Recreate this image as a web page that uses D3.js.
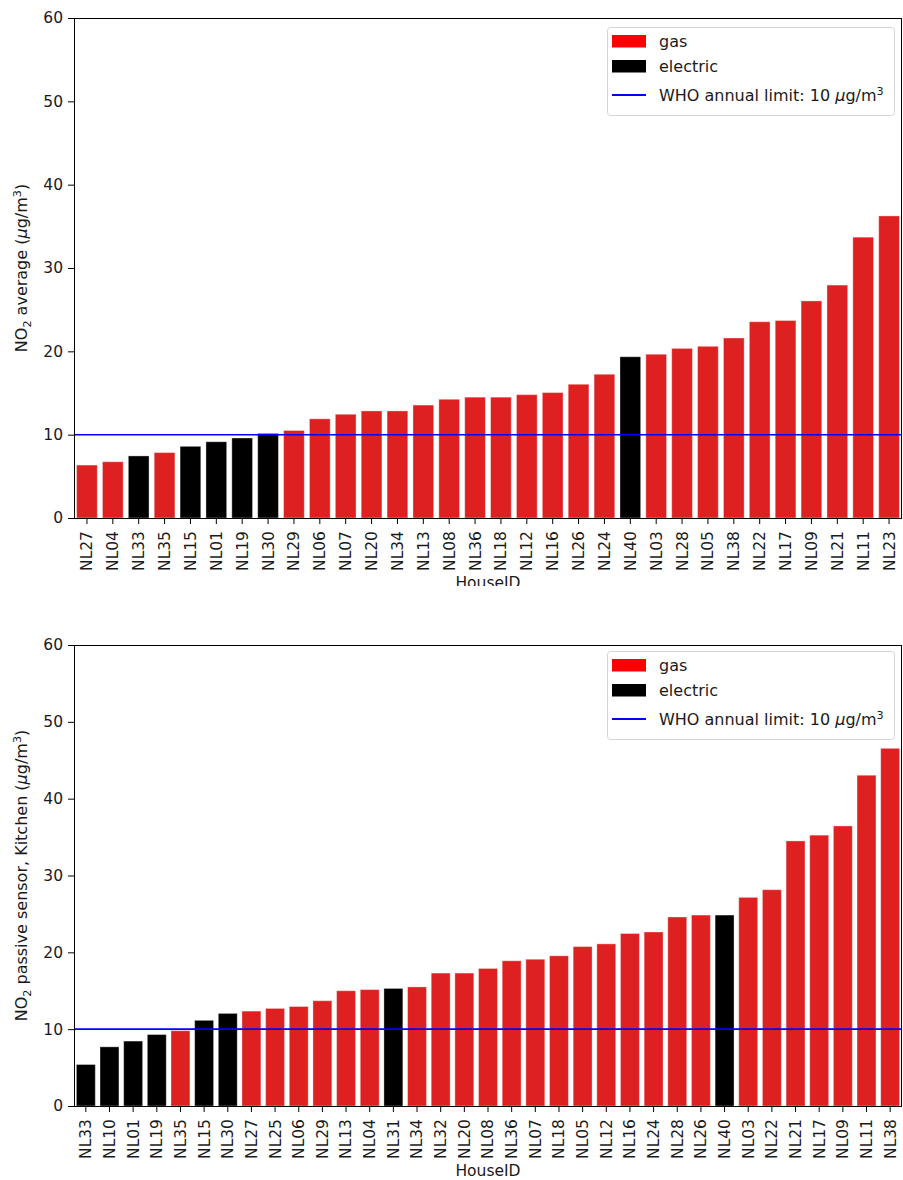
<!DOCTYPE html>
<html>
<head>
<meta charset="utf-8">
<script src="https://cdn.jsdelivr.net/npm/d3@7"></script>
<style>
  html, body { margin: 0; padding: 0; background: #fff; }
  svg { display: block; }
  text { font-family: "DejaVu Sans", sans-serif; fill: #1a1a1a; }
</style>
</head>
<body>
<svg id="chart" width="903" height="1180"></svg>
<script>
// NO2 average per house (sorted)
const avgHouses = ["NL27","NL04","NL33","NL35","NL15","NL01","NL19","NL30","NL29","NL06","NL07","NL20","NL34","NL13","NL08","NL36","NL18","NL12","NL16","NL26","NL24","NL40","NL03","NL28","NL05","NL38","NL22","NL17","NL09","NL21","NL11","NL23"];
const avgValues = [6.35,6.75,7.45,7.85,8.6,9.15,9.6,10.15,10.5,11.9,12.45,12.85,12.85,13.55,14.25,14.5,14.5,14.8,15.05,16.05,17.25,19.35,19.65,20.35,20.6,21.6,23.55,23.7,26.05,27.95,33.7,36.25];
const avgHeating = ["gas","gas","electric","gas","electric","electric","electric","electric","gas","gas","gas","gas","gas","gas","gas","gas","gas","gas","gas","gas","gas","electric","gas","gas","gas","gas","gas","gas","gas","gas","gas","gas"];

// NO2 passive sensor in the kitchen per house (sorted)
const kitchenHouses = ["NL33","NL10","NL01","NL19","NL35","NL15","NL30","NL27","NL25","NL06","NL29","NL13","NL04","NL31","NL34","NL32","NL20","NL08","NL36","NL07","NL18","NL05","NL12","NL16","NL24","NL28","NL26","NL40","NL03","NL22","NL21","NL17","NL09","NL11","NL38"];
const kitchenValues = [5.4,7.7,8.45,9.3,9.8,11.15,12.05,12.35,12.7,12.95,13.7,15.0,15.15,15.3,15.5,17.3,17.3,17.9,18.9,19.1,19.55,20.75,21.1,22.45,22.65,24.6,24.85,24.85,27.15,28.15,34.5,35.25,36.45,43.05,46.55];
const kitchenHeating = ["electric","electric","electric","electric","gas","electric","electric","gas","gas","gas","gas","gas","gas","electric","gas","gas","gas","gas","gas","gas","gas","gas","gas","gas","gas","gas","gas","electric","gas","gas","gas","gas","gas","gas","gas"];

const yTicks = [0, 10, 20, 30, 40, 50, 60];
const whoLimit = 10;
const legendLabels = ["gas", "electric"];

const barColor = { gas: "#df2020", electric: "#000000" };
const legendColor = { gas: "#ff0000", electric: "#000000" };

const svg = d3.select("#chart");
const TICK_FONT = 15.5;
const LABEL_FONT = 16;

// Append "NO₂ … (μg/m³)" label pieces with sub/superscripts and italic μ
function unitText(sel, prefix) {
  sel.append("tspan").text("NO");
  sel.append("tspan").attr("dy", 4).attr("font-size", LABEL_FONT * 0.7).text("2");
  sel.append("tspan").attr("dy", -4).text(" " + prefix + " (");
  sel.append("tspan").attr("font-style", "italic").text("\u03bc");
  sel.append("tspan").text("g/m");
  sel.append("tspan").attr("dy", -6).attr("font-size", LABEL_FONT * 0.7).text("3");
  sel.append("tspan").attr("dy", 6).text(")");
}

function drawPanel(opts) {
  const { houses, values, heating, top, bottom, ylabel, clipBottom, whoWidth, legendTop } = opts;
  const left = 74, right = 902;
  const g = svg.append("g");

  if (clipBottom) {
    const id = "clip" + top;
    svg.append("clipPath").attr("id", id)
      .append("rect").attr("x", 0).attr("y", 0).attr("width", 903).attr("height", clipBottom);
    g.attr("clip-path", `url(#${id})`);
  }

  const x = d3.scaleBand().domain(houses).range([left, right]).paddingInner(0.2).paddingOuter(0.1);
  const y = d3.scaleLinear().domain([0, 60]).range([bottom, top]);

  // bars
  g.append("g").selectAll("rect")
    .data(houses.map((h, i) => ({ h, v: values[i], t: heating[i] })))
    .join("rect")
    .attr("x", d => x(d.h))
    .attr("width", x.bandwidth())
    .attr("y", d => y(d.v))
    .attr("height", d => y(0) - y(d.v))
    .attr("fill", d => barColor[d.t])
    .attr("stroke", "rgba(255,255,255,0.35)")
    .attr("stroke-width", 1);

  // WHO limit line
  g.append("line")
    .attr("x1", left).attr("x2", right)
    .attr("y1", y(whoLimit)).attr("y2", y(whoLimit))
    .attr("stroke", "#0000ff").attr("stroke-width", whoWidth);

  // frame
  g.append("rect")
    .attr("x", left + 0.5).attr("y", top + 0.5)
    .attr("width", right - left - 1).attr("height", bottom - top)
    .attr("fill", "none").attr("stroke", "#000").attr("stroke-width", 1);

  // y axis
  const ya = g.append("g").attr("transform", `translate(${left},0)`)
    .call(d3.axisLeft(y).tickValues(yTicks).tickSize(6).tickSizeOuter(0));
  ya.select(".domain").remove();
  ya.selectAll("text").attr("font-size", TICK_FONT).attr("font-family", "DejaVu Sans")
    .attr("x", -11).attr("fill", "#1a1a1a");

  // x axis
  const xa = g.append("g").attr("transform", `translate(0,${bottom})`)
    .call(d3.axisBottom(x).tickSize(6).tickSizeOuter(0));
  xa.select(".domain").remove();
  xa.selectAll("text")
    .attr("font-size", TICK_FONT).attr("font-family", "DejaVu Sans").attr("fill", "#1a1a1a")
    .attr("transform", "rotate(-90)")
    .attr("x", -13).attr("y", 0).attr("dy", "0.35em")
    .attr("text-anchor", "end");

  // axis titles
  g.append("text")
    .attr("x", (left + right) / 2).attr("y", bottom + 70)
    .attr("text-anchor", "middle").attr("font-size", TICK_FONT)
    .text("HouseID");

  const yl = g.append("text")
    .attr("transform", `translate(27,${(top + bottom) / 2}) rotate(-90)`)
    .attr("text-anchor", "middle").attr("font-size", LABEL_FONT);
  unitText(yl, ylabel);

  // legend
  const lx = 607, ly = legendTop;
  const lg = g.append("g");
  lg.append("rect")
    .attr("x", lx + 0.5).attr("y", ly + 0.5).attr("width", 287).attr("height", 88)
    .attr("rx", 3).attr("fill", "rgba(255,255,255,0.8)")
    .attr("stroke", "#d5d5d5").attr("stroke-width", 1);
  legendLabels.forEach((lab, i) => {
    lg.append("rect")
      .attr("x", lx + 5).attr("y", ly + 8 + i * 25)
      .attr("width", 34).attr("height", 12.5)
      .attr("fill", legendColor[lab]);
    lg.append("text")
      .attr("x", lx + 52).attr("y", ly + 20 + i * 24.5)
      .attr("font-size", LABEL_FONT).text(lab);
  });
  lg.append("line")
    .attr("x1", lx + 5).attr("x2", lx + 39)
    .attr("y1", ly + 68).attr("y2", ly + 68)
    .attr("stroke", "#0000ff").attr("stroke-width", 2.2);
  const wt = lg.append("text").attr("x", lx + 52).attr("y", ly + 74).attr("font-size", LABEL_FONT);
  wt.append("tspan").text("WHO annual limit: " + whoLimit + " ");
  wt.append("tspan").attr("font-style", "italic").text("\u03bc");
  wt.append("tspan").text("g/m");
  wt.append("tspan").attr("dy", -6).attr("font-size", LABEL_FONT * 0.7).text("3");
}

drawPanel({
  houses: avgHouses, values: avgValues, heating: avgHeating,
  top: 18, bottom: 518, ylabel: "average", clipBottom: 586, whoWidth: 1.5, legendTop: 27
});

drawPanel({
  houses: kitchenHouses, values: kitchenValues, heating: kitchenHeating,
  top: 645, bottom: 1106, ylabel: "passive sensor, Kitchen", clipBottom: null, whoWidth: 1.8, legendTop: 651
});
</script>
</body>
</html>
